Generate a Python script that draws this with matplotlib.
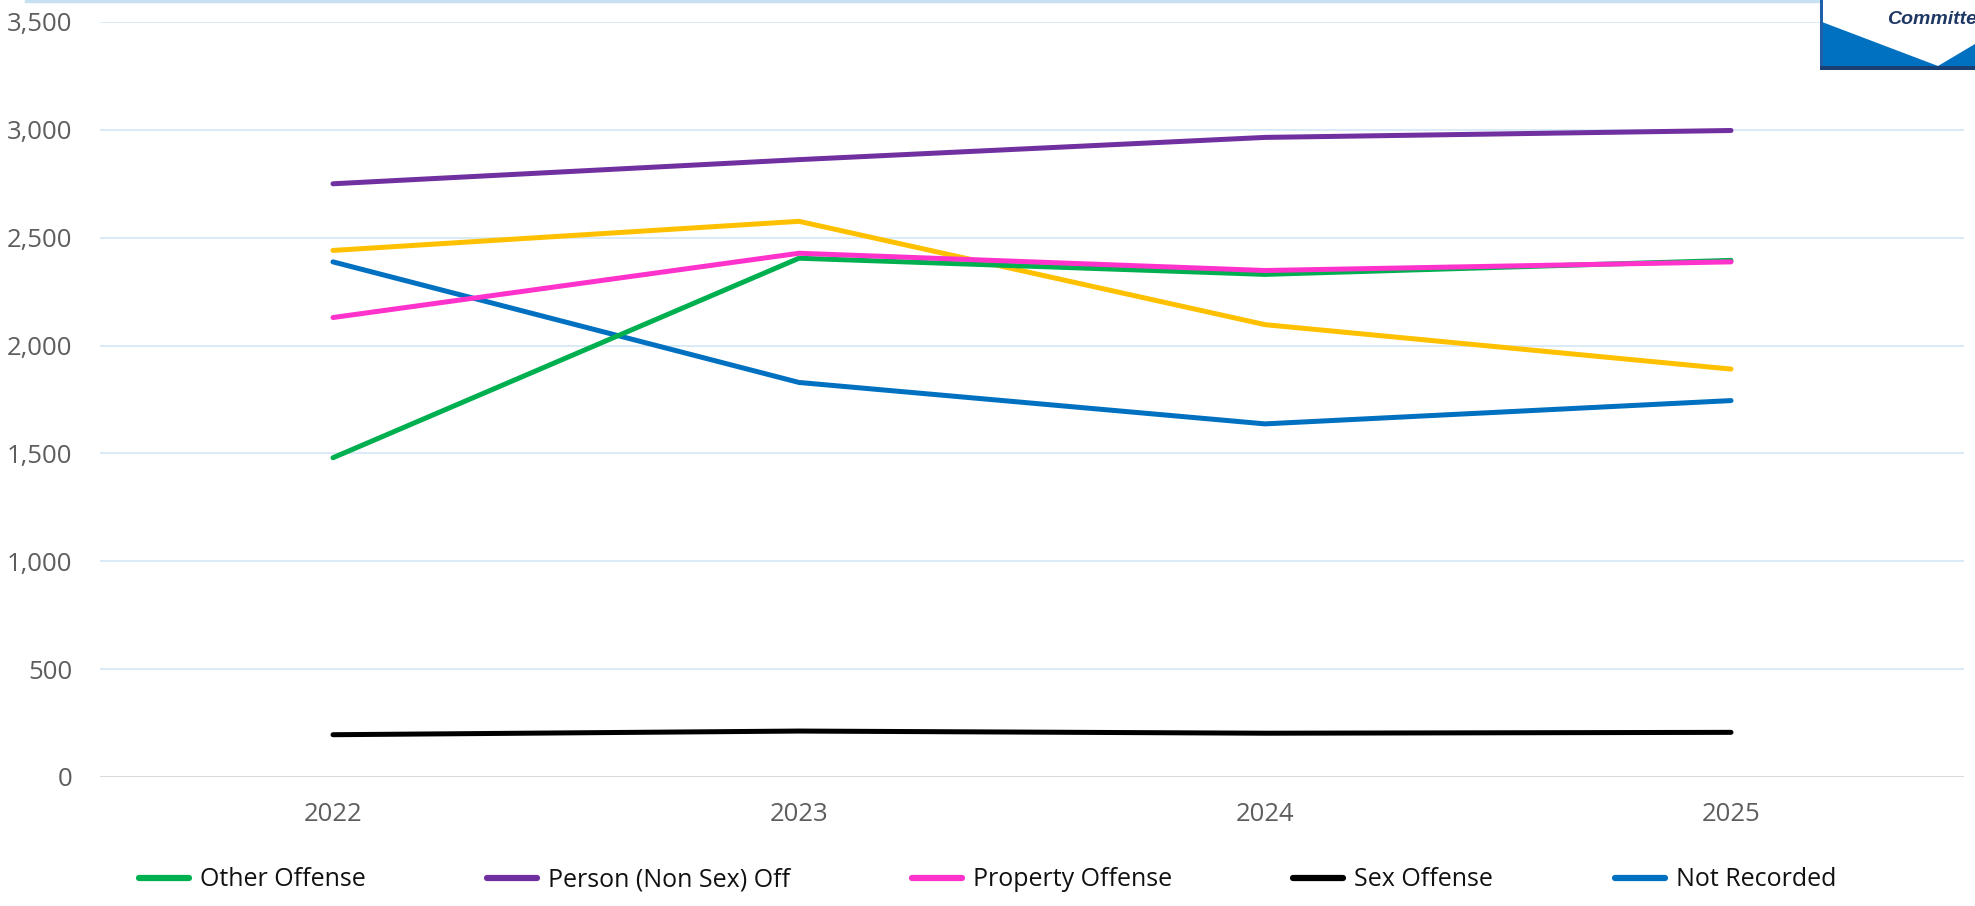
import matplotlib
matplotlib.use("Agg")
import matplotlib.pyplot as plt
from matplotlib.patches import Polygon, Rectangle
from matplotlib.lines import Line2D

years = ["2022", "2023", "2024", "2025"]
other_offense = [1480, 2405, 2330, 2395]
person_offense = [2750, 2862, 2965, 2997]
property_offense = [2130, 2428, 2348, 2388]
sex_offense = [196, 213, 203, 207]
not_recorded = [2388, 1829, 1637, 1745]
drug_offense = [2441, 2576, 2097, 1891]  # series whose legend entry is cut off

series_names = ["Other Offense", "Person (Non Sex) Off", "Property Offense",
                "Sex Offense", "Not Recorded"]
series_values = [other_offense, person_offense, property_offense,
                 sex_offense, not_recorded]
series_colors = ["#00B050", "#7030A0", "#FF33CC", "#000000", "#0070C0"]
yticks = [0, 500, 1000, 1500, 2000, 2500, 3000, 3500]

W, H = 1975, 906
fig = plt.figure(figsize=(W / 100, H / 100), dpi=100)
ax = fig.add_axes([100 / W, 1 - 777 / H, 1864 / W, 755 / H])

x = list(range(len(years)))
lw = 3.6
ax.plot(x, drug_offense, color="#FFC000", lw=lw, solid_capstyle="round", zorder=3)
ax.plot(x, not_recorded, color="#0070C0", lw=lw, solid_capstyle="round", zorder=3)
ax.plot(x, person_offense, color="#7030A0", lw=lw, solid_capstyle="round", zorder=3)
ax.plot(x, other_offense, color="#00B050", lw=lw, solid_capstyle="round", zorder=3)
ax.plot(x, property_offense, color="#FF33CC", lw=lw, solid_capstyle="round", zorder=4)
ax.plot(x, sex_offense, color="#000000", lw=lw, solid_capstyle="round", zorder=3)

ax.set_xlim(-0.5, len(years) - 0.5)
ax.set_ylim(0, 3500)
ax.set_xticks(x)
ax.set_xticklabels(years)
ax.set_yticks(yticks)
ax.set_yticklabels([f"{v:,}" for v in yticks])
for s in ax.spines.values():
    s.set_visible(False)
ax.tick_params(length=0, labelsize=18.5, colors="#605E5C", labelcolor="#605E5C")
ax.tick_params(axis="y", pad=20)
ax.tick_params(axis="x", pad=18)
for lab in ax.get_xticklabels() + ax.get_yticklabels():
    lab.set_family("Open Sans")
for v in yticks[1:]:
    ax.axhline(v, color="#D3E6F5", lw=1.2, zorder=1)
ax.axhline(0, color="#D9D9D9", lw=1.5, zorder=1)

handles = [Line2D([0], [0], color=c, lw=4.5, solid_capstyle="round")
           for c in series_colors]
leg = fig.legend(handles, series_names, loc="center", ncol=5,
                 bbox_to_anchor=(0.5, 1 - 880 / H), frameon=False,
                 prop={"family": "Open Sans", "size": 18},
                 handlelength=2.0, handletextpad=0.45, columnspacing=4.85)
for t in leg.get_texts():
    t.set_color("#111111")

# top frame line of the visual
fig.add_artist(Line2D([26 / W, 1820 / W], [1 - 1 / H, 1 - 1 / H],
                      color="#C8E1F2", lw=2.5))

# partial logo in the top-right corner
def fx(px):
    return px / W

def fy(py):
    return 1 - py / H

fig.add_artist(Rectangle((fx(1820), fy(69)), fx(1975) - fx(1820), fy(0) - fy(69),
                         facecolor="white", edgecolor="none", zorder=5))
fig.add_artist(Polygon([(fx(1822), fy(22)), (fx(1938), fy(66)), (fx(1975), fy(44)),
                        (fx(1975), fy(69)), (fx(1822), fy(69))],
                       closed=True, facecolor="#0070C0", edgecolor="none", zorder=6))
fig.add_artist(Rectangle((fx(1820), fy(69)), fx(1823) - fx(1820), fy(0) - fy(69),
                         facecolor="#1E5FA8", edgecolor="none", zorder=7))
fig.add_artist(Rectangle((fx(1820), fy(70)), fx(1975) - fx(1820), fy(66) - fy(70),
                         facecolor="#1A3F73", edgecolor="none", zorder=7))
fig.text(fx(1887), fy(19), "Committe", fontsize=14, fontweight="bold",
         fontstyle="italic", color="#1F3864", va="center", ha="left",
         family="Liberation Sans", zorder=8)
fig.text(fx(1862), fy(-4), "Justice Over", fontsize=14, fontweight="bold",
         fontstyle="italic", color="#1F3864", va="center", ha="left",
         family="Liberation Sans", zorder=8)

fig.savefig("out.png", dpi=100, facecolor="white")
